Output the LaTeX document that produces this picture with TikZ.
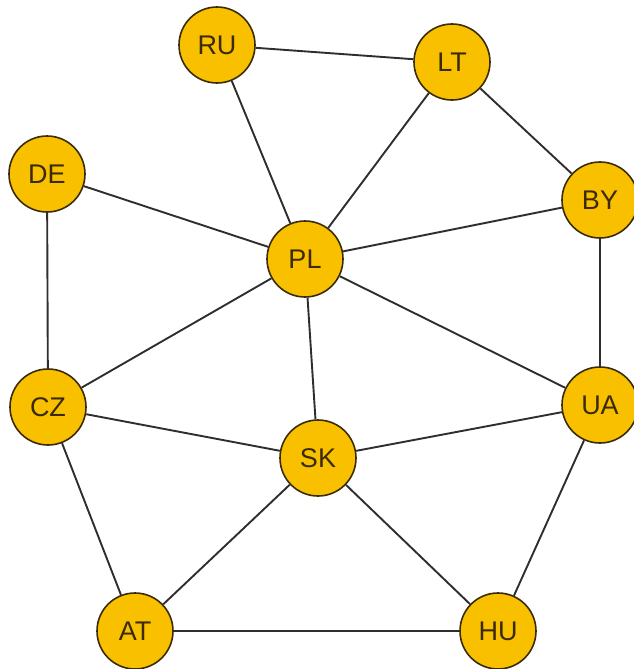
\documentclass[tikz,border=0pt]{standalone}
\usepackage{fontspec}
\setmainfont{Liberation Sans}
\definecolor{gold}{HTML}{F9C000}
\definecolor{rim}{HTML}{3A2C08}
\definecolor{txt}{HTML}{3A2A05}
\definecolor{edge}{HTML}{2E2E2E}
\begin{document}
\begin{tikzpicture}[x=1pt,y=-1pt,
  country/.style={circle,draw=rim,line width=1.6pt,fill=gold,minimum size=76pt,inner sep=0pt,
    font=\fontsize{27}{27}\selectfont,text=txt},
  link/.style={draw=edge,line width=1.9pt}]
\useasboundingbox (0,0) rectangle (634,669);
\node[country] (RU) at (217,45) {RU};
\node[country] (LT) at (452,62) {LT};
\node[country] (DE) at (47,174) {DE};
\node[country] (BY) at (600,200) {BY};
\node[country] (PL) at (305,259) {PL};
\node[country] (CZ) at (48,407) {CZ};
\node[country] (UA) at (600,405) {UA};
\node[country] (SK) at (318,458) {SK};
\node[country] (AT) at (135,631) {AT};
\node[country] (HU) at (498,631) {HU};
\foreach \a/\b in {RU/LT,RU/PL,LT/PL,LT/BY,DE/PL,DE/CZ,BY/PL,BY/UA,PL/CZ,PL/UA,PL/SK,CZ/SK,CZ/AT,SK/UA,SK/AT,SK/HU,UA/HU,AT/HU}
  \draw[link] (\a) -- (\b);
\end{tikzpicture}
\end{document}
